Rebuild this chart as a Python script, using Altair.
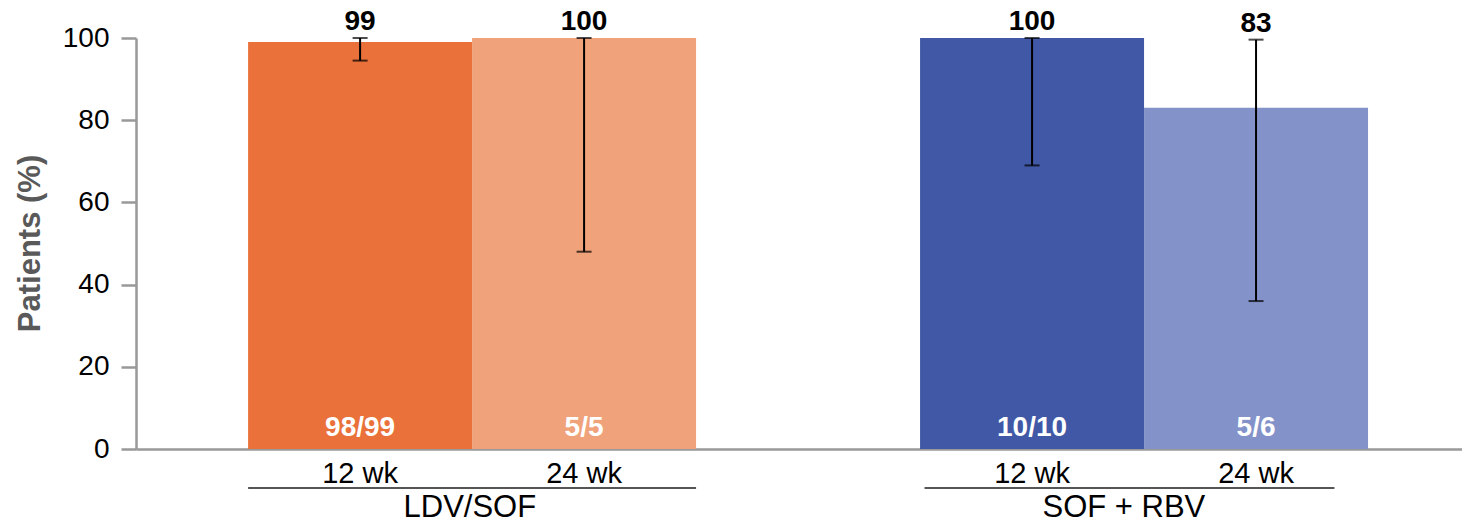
import altair as alt
import pandas as pd

groups = ["LDV/SOF", "LDV/SOF", "SOF + RBV", "SOF + RBV"]
durations = ["12 wk", "24 wk", "12 wk", "24 wk"]
pct = [99, 100, 100, 83]
ci_low = [94.5, 48, 69, 36]
ci_high = [100, 100, 100, 99.6]
counts = ["98/99", "5/5", "10/10", "5/6"]
colors = ["#EA7139", "#F0A27A", "#4058A5", "#8392C8"]
y_ticks = [0, 20, 40, 60, 80, 100]
group_names = ["LDV/SOF", "SOF + RBV"]

keys = [f"{g}|{d}" for g, d in zip(groups, durations)]
domain = keys[:2] + ["gap"] + keys[2:]

df = pd.DataFrame(dict(key=keys, group=groups, dur=durations, pct=pct,
                       lo=ci_low, hi=ci_high, n=counts))
gdf = pd.DataFrame(dict(group=group_names, start=[keys[0], keys[2]], end=[keys[1], keys[3]]))

FONT = "Liberation Sans"
xscale = alt.Scale(domain=domain, paddingInner=0, paddingOuter=0.46, align=0.544)
yscale = alt.Scale(domain=[0, 100], nice=False)

xaxis = alt.Axis(labelExpr="indexof(datum.label,'|')>=0 ? split(datum.label,'|')[1] : ''",
                 ticks=False, labelAngle=0, labelFontSize=29, labelColor="#000",
                 labelPadding=10, domainColor="#999", domainWidth=2.5, labelFont=FONT,
                 title=None)
yaxis = alt.Axis(values=y_ticks, title="Patients (%)", grid=False,
                 domainColor="#999", domainWidth=2.5, tickColor="#999", tickWidth=2.5,
                 tickSize=15, labelFontSize=28, labelColor="#000", labelPadding=12,
                 labelFont=FONT, titleFont=FONT, titleFontSize=31, titleFontWeight="bold",
                 titleColor="#595959", titleX=-106, titleY=205, titleAngle=270,
                 titleAlign="center", titleBaseline="middle")


def X(field, **kw):
    return alt.X(field, scale=xscale, axis=xaxis, title=None, **kw)


def Y(field):
    return alt.Y(field, scale=yscale, axis=yaxis, title="Patients (%)")


base = alt.Chart(df)

bars = base.mark_bar().encode(
    x=X("key:N"),
    y=Y("pct:Q"),
    color=alt.Color("key:N", scale=alt.Scale(domain=keys, range=colors), legend=None),
)

err = base.mark_rule(color="#000", strokeWidth=2).encode(
    x=X("key:N"), y=Y("lo:Q"), y2="hi:Q",
)
cap_lo = base.mark_tick(orient="horizontal", size=15, thickness=2, color="#000").encode(
    x=X("key:N"), y=Y("lo:Q"),
)
cap_hi = base.mark_tick(orient="horizontal", size=15, thickness=2, color="#000").encode(
    x=X("key:N"), y=Y("hi:Q"),
)
val_text = base.mark_text(font=FONT, fontSize=28, fontWeight="bold", color="#000",
                          baseline="alphabetic", dy=-8).encode(
    x=X("key:N"), y=Y("hi:Q"), text=alt.Text("pct:Q"),
)
n_text = base.mark_text(font=FONT, fontSize=28, fontWeight="bold", color="#fff",
                        baseline="alphabetic", dy=-13).encode(
    x=X("key:N"), y=alt.datum(0), text="n:N",
)

gbase = alt.Chart(gdf)
g1 = gbase.transform_filter(alt.datum.group == group_names[0])
g2 = gbase.transform_filter(alt.datum.group == group_names[1])

g_rule1 = g1.mark_rule(color="#555", strokeWidth=1.8).encode(
    x=X("start:N", bandPosition=0),
    x2=alt.X2("end:N", bandPosition=1),
    y=alt.value(450),
)
g_rule2 = g2.mark_rule(color="#555", strokeWidth=1.8).encode(
    x=X("start:N", bandPosition=0.02),
    x2=alt.X2("end:N", bandPosition=0.85),
    y=alt.value(450),
)
g_text1 = g1.mark_text(font=FONT, fontSize=31, color="#000", baseline="alphabetic").encode(
    x=X("start:N", bandPosition=0.99),
    y=alt.value(479),
    text="group:N",
)
g_text2 = g2.mark_text(font=FONT, fontSize=31, color="#000", baseline="alphabetic").encode(
    x=X("start:N", bandPosition=0.91),
    y=alt.value(479),
    text="group:N",
)

chart = alt.layer(bars, err, cap_lo, cap_hi, val_text, n_text,
                  g_rule1, g_rule2, g_text1, g_text2).properties(
    width=1326, height=411,
    autosize=alt.AutoSizeParams(type="none"),
    padding={"left": 128, "top": 30, "right": 0, "bottom": 74},
).configure_view(stroke=None)

chart.save("out.html", embed_options={"renderer": "svg", "actions": False})
